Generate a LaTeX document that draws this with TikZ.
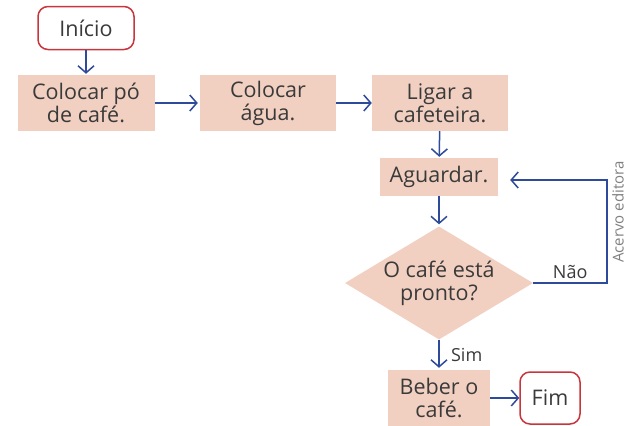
\documentclass[tikz,border=0pt]{standalone}
\usepackage{fontspec}
\setmainfont{Open Sans}
\usetikzlibrary{shapes.geometric,arrows.meta}

\definecolor{pessego}{HTML}{F2D0C1}
\definecolor{azulseta}{HTML}{2E4A9B}
\definecolor{vermelho}{HTML}{C9353C}
\definecolor{texto}{HTML}{3A3A3A}

\begin{document}
\begin{tikzpicture}[x=1pt,y=-1pt,
        passo/.style={fill=pessego, text=texto, align=center, inner sep=0pt,
            font=\fontsize{21.5}{23}\selectfont},
        terminal/.style={draw=vermelho, line width=1.5pt, rounded corners=10pt,
            fill=white, text=texto, inner sep=0pt, font=\fontsize{21.5}{23}\selectfont},
        seta/.style={draw=azulseta, line width=1.5pt,
            -{Straight Barb[length=7pt,width=16pt,line width=1.5pt]}},
        rotulo/.style={text=texto, font=\fontsize{18}{20}\selectfont}]
        \useasboundingbox (0,0) rectangle (627,426);

        % Início e fim
        \node[terminal, minimum width=96pt, minimum height=43pt] (inicio) at (86,28) {Início};
        \node[terminal, minimum width=60pt, minimum height=52pt] (fim) at (550,398) {Fim};

        % Passos
        \node[passo, minimum width=137pt, minimum height=56pt] (colocarpo) at (86,103) {Colocar pó\\de café.};
        \node[passo, minimum width=136pt, minimum height=56pt] (colocaragua) at (268,103) {Colocar\\água.};
        \node[passo, minimum width=136pt, minimum height=56pt] (ligar) at (440,103) {Ligar a\\cafeteira.};
        \node[passo, minimum width=118pt, minimum height=38pt] (aguardar) at (439,177) {Aguardar.};
        \node[passo, minimum width=102pt, minimum height=56pt] (beber) at (439,398) {Beber o\\café.};

        % Decisão
        \node[passo, diamond, aspect=1.66, minimum width=188pt, minimum height=113pt] (pronto) at (439,283) {O café está\\pronto?};

        % Setas
        \draw[seta, shorten >=1pt] (inicio) -- (colocarpo);
        \draw[seta, shorten >=2pt] (colocarpo) -- (colocaragua);
        \draw[seta] (colocaragua) -- (ligar);
        \draw[seta, shorten >=1pt] (ligar) -- (aguardar);
        \draw[seta, shorten >=2pt] (aguardar) -- (pronto);
        \draw[seta, shorten >=2pt] (pronto) -- (beber) node[midway, right=8pt, rotulo] {Sim};
        \draw[seta] (beber) -- (fim);
        \draw[seta, shorten >=12pt] (pronto.east) -- ++(74,0) node[pos=0.5, above, rotulo] {Não} |- ([yshift=-3pt]aguardar.east);

        % Crédito
        \node[rotate=90, text=gray, font=\fontsize{15}{17}\selectfont] (credito) at (618,212) {Acervo editora};
\end{tikzpicture}
\end{document}
